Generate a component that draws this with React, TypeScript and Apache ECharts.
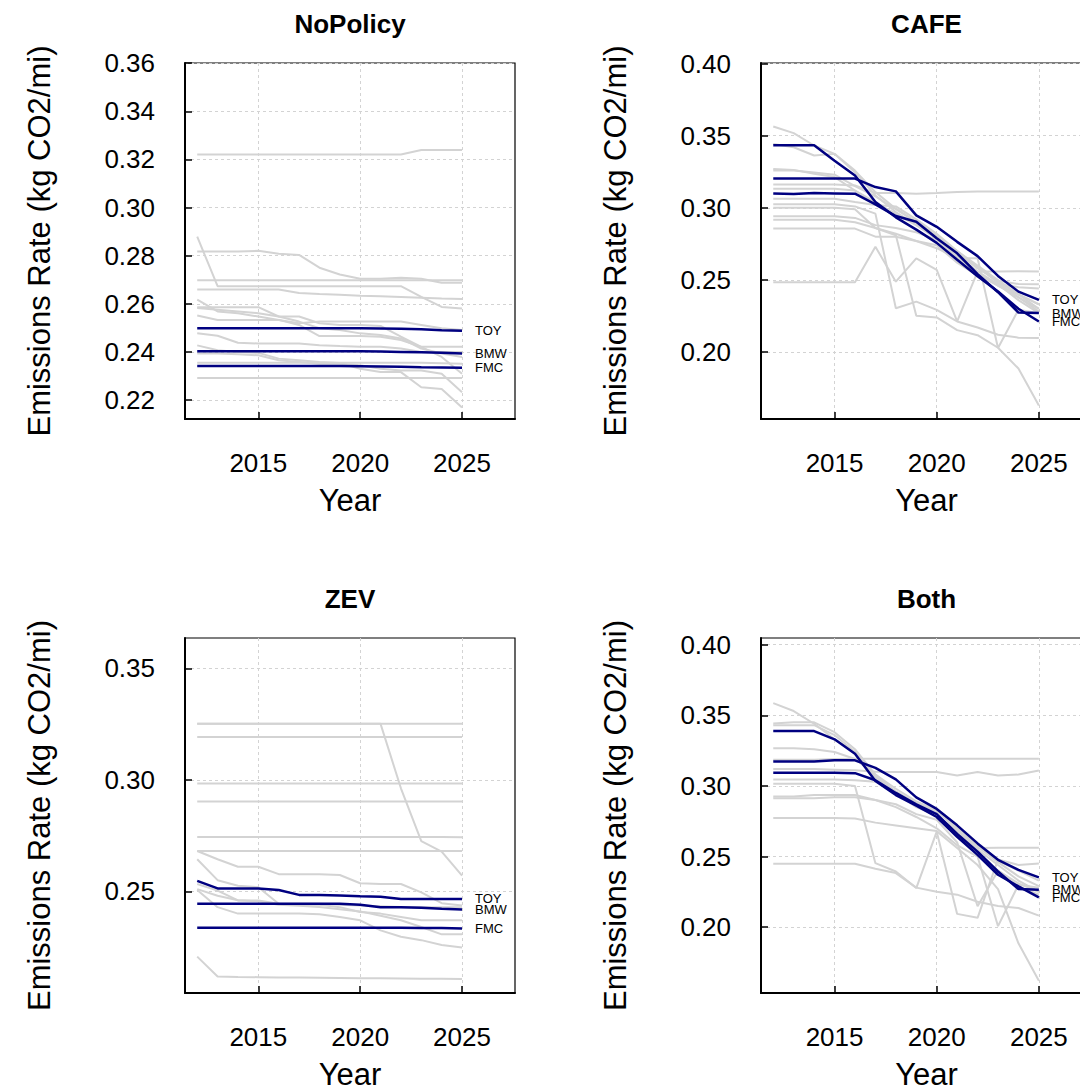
import React, { useEffect, useRef } from "react";
import * as echarts from "echarts";

// ---------- data ----------
const YEARS = [2012, 2013, 2014, 2015, 2016, 2017, 2018, 2019, 2020, 2021, 2022, 2023, 2024, 2025];
const X_TICKS = [2015, 2020, 2025];
const X_RANGE = [2011.4, 2027.6];
const FIRMS = ["TOY", "BMW", "FMC"];

// NoPolicy
const NOPOLICY_Y_RANGE = [0.2121, 0.3601];
const NOPOLICY_Y_TICKS = [0.22, 0.24, 0.26, 0.28, 0.3, 0.32, 0.34, 0.36];
const NOPOLICY_OTHERS = [
  [0.3221, 0.3221, 0.3221, 0.3221, 0.3221, 0.3221, 0.3221, 0.3221, 0.3221, 0.3221, 0.3221, 0.3239, 0.3239, 0.3239],
  [0.2817, 0.2817, 0.2817, 0.282, 0.2808, 0.2803, 0.275, 0.2722, 0.2704, 0.2704, 0.2708, 0.2704, 0.2687, 0.2687],
  [0.2698, 0.2698, 0.2698, 0.2698, 0.2698, 0.2698, 0.2698, 0.2698, 0.2698, 0.2698, 0.2698, 0.2698, 0.2698, 0.2698],
  [0.2879, 0.2673, 0.2673, 0.2673, 0.2673, 0.2673, 0.2673, 0.2673, 0.2673, 0.2673, 0.2673, 0.2629, 0.2587, 0.258],
  [0.2659, 0.2659, 0.2659, 0.2659, 0.2659, 0.2645, 0.2641, 0.2638, 0.2633, 0.2631, 0.2628, 0.2625, 0.2622, 0.262],
  [0.2617, 0.2568, 0.2561, 0.2547, 0.2533, 0.2512, 0.2466, 0.2466, 0.2466, 0.2463, 0.2449, 0.2421, 0.2379, 0.2309],
  [0.2586, 0.2586, 0.2586, 0.2586, 0.2547, 0.2547, 0.2519, 0.2512, 0.2512, 0.2508, 0.2463, 0.2421, 0.2421, 0.2421],
  [0.2582, 0.2575, 0.2568, 0.2561, 0.2547, 0.2526, 0.2498, 0.2491, 0.2477, 0.247, 0.2456, 0.2414, 0.2393, 0.2379],
  [0.2551, 0.2533, 0.2533, 0.2533, 0.2533, 0.2519, 0.2526, 0.2526, 0.2526, 0.2526, 0.2526, 0.2512, 0.2498, 0.2491],
  [0.2477, 0.2467, 0.2438, 0.2435, 0.2435, 0.2435, 0.2428, 0.2424, 0.2421, 0.2421, 0.2414, 0.24, 0.24, 0.24],
  [0.2427, 0.2407, 0.24, 0.2396, 0.2372, 0.2365, 0.2358, 0.2354, 0.233, 0.2316, 0.2316, 0.2253, 0.2246, 0.2169],
  [0.2393, 0.2393, 0.239, 0.2386, 0.2365, 0.2358, 0.2351, 0.2351, 0.2344, 0.233, 0.2323, 0.2323, 0.2309, 0.2232],
  [0.2355, 0.2355, 0.2355, 0.2355, 0.2355, 0.2355, 0.2355, 0.2355, 0.2355, 0.2355, 0.2355, 0.2355, 0.2353, 0.2351],
  [0.2291, 0.2291, 0.2291, 0.2291, 0.2291, 0.2291, 0.2291, 0.2291, 0.2291, 0.2291, 0.2291, 0.2291, 0.2291, 0.2291],
];
const NOPOLICY_TOY = [0.2498, 0.2498, 0.2498, 0.2498, 0.2498, 0.2498, 0.2498, 0.2498, 0.2498, 0.2497, 0.2496, 0.2494, 0.249, 0.2488];
const NOPOLICY_BMW = [0.2403, 0.2403, 0.2403, 0.2403, 0.2403, 0.2403, 0.2403, 0.2403, 0.2403, 0.2402, 0.24, 0.2398, 0.2396, 0.2393];
const NOPOLICY_FMC = [0.2341, 0.2341, 0.2341, 0.2341, 0.2341, 0.2341, 0.2341, 0.2341, 0.234, 0.2339, 0.2338, 0.2336, 0.2335, 0.2334];

// CAFE
const CAFE_Y_RANGE = [0.1536, 0.4004];
const CAFE_Y_TICKS = [0.2, 0.25, 0.3, 0.35, 0.4];
const CAFE_OTHERS = [
  [0.3564, 0.3518, 0.3432, 0.3374, 0.3247, 0.3086, 0.2971, 0.2879, 0.2787, 0.265, 0.254, 0.246, 0.24, 0.233],
  [0.3443, 0.342, 0.3363, 0.3374, 0.3258, 0.3109, 0.2994, 0.2902, 0.281, 0.269, 0.258, 0.2495, 0.2472, 0.247],
  [0.327, 0.3263, 0.3236, 0.3213, 0.312, 0.304, 0.2955, 0.288, 0.279, 0.267, 0.256, 0.247, 0.236, 0.227],
  [0.3259, 0.3259, 0.3245, 0.323, 0.315, 0.308, 0.299, 0.29, 0.28, 0.269, 0.259, 0.249, 0.24, 0.233],
  [0.3162, 0.3162, 0.3162, 0.3162, 0.3155, 0.3103, 0.3103, 0.3098, 0.3103, 0.311, 0.3114, 0.3114, 0.3114, 0.3114],
  [0.3133, 0.3133, 0.3133, 0.3133, 0.312, 0.303, 0.296, 0.289, 0.28, 0.27, 0.26, 0.25, 0.24, 0.23],
  [0.3063, 0.3063, 0.3063, 0.3063, 0.304, 0.302, 0.301, 0.292, 0.282, 0.27, 0.259, 0.248, 0.238, 0.228],
  [0.3024, 0.3024, 0.3024, 0.3024, 0.301, 0.296, 0.2304, 0.235, 0.2293, 0.2212, 0.217, 0.212, 0.21, 0.2097],
  [0.3001, 0.3001, 0.3001, 0.3001, 0.299, 0.286, 0.281, 0.2251, 0.224, 0.2152, 0.2117, 0.203, 0.1886, 0.163],
  [0.2941, 0.2941, 0.2941, 0.2941, 0.293, 0.288, 0.286, 0.283, 0.278, 0.266, 0.254, 0.246, 0.238, 0.23],
  [0.2918, 0.2918, 0.2918, 0.2918, 0.29, 0.286, 0.282, 0.277, 0.272, 0.265, 0.265, 0.2028, 0.2293, 0.227],
  [0.2856, 0.2856, 0.2856, 0.2856, 0.2856, 0.28, 0.28, 0.277, 0.274, 0.262, 0.253, 0.247, 0.245, 0.244],
  [0.2484, 0.2484, 0.2484, 0.2484, 0.2484, 0.273, 0.2488, 0.2649, 0.2569, 0.2212, 0.2558, 0.2558, 0.256, 0.2558],
];
const CAFE_TOY = [0.3203, 0.3203, 0.3203, 0.3203, 0.3203, 0.3144, 0.3114, 0.2948, 0.2868, 0.2764, 0.2665, 0.2528, 0.2419, 0.2362];
const CAFE_BMW = [0.31, 0.3095, 0.3102, 0.31, 0.3098, 0.3024, 0.2943, 0.2904, 0.2789, 0.2685, 0.254, 0.2415, 0.2274, 0.227];
const CAFE_FMC = [0.3433, 0.3433, 0.3433, 0.3327, 0.3224, 0.304, 0.2934, 0.2849, 0.2757, 0.264, 0.2525, 0.242, 0.23, 0.2212];

// ZEV
const ZEV_Y_RANGE = [0.2044, 0.3636];
const ZEV_Y_TICKS = [0.25, 0.3, 0.35];
const ZEV_OTHERS = [
  [0.3251, 0.3251, 0.3251, 0.3251, 0.3251, 0.3251, 0.3251, 0.3251, 0.3251, 0.3251, 0.3251, 0.3251, 0.3251, 0.3251],
  [0.3251, 0.3251, 0.3251, 0.3251, 0.3251, 0.3251, 0.3251, 0.3251, 0.3251, 0.3251, 0.2962, 0.2725, 0.2678, 0.257],
  [0.3192, 0.3192, 0.3192, 0.3192, 0.3192, 0.3192, 0.3192, 0.3192, 0.3192, 0.3192, 0.3192, 0.3192, 0.3192, 0.3192],
  [0.2984, 0.2984, 0.2984, 0.2984, 0.2984, 0.2984, 0.2984, 0.2984, 0.2984, 0.2984, 0.2984, 0.2984, 0.2984, 0.2984],
  [0.2903, 0.2903, 0.2903, 0.2903, 0.2903, 0.2903, 0.2903, 0.2903, 0.2903, 0.2903, 0.2903, 0.2903, 0.2903, 0.2903],
  [0.2744, 0.2744, 0.2744, 0.2744, 0.2744, 0.2744, 0.2744, 0.2744, 0.2744, 0.2744, 0.2744, 0.2744, 0.2744, 0.2742],
  [0.2681, 0.2681, 0.2681, 0.2681, 0.2681, 0.2681, 0.2681, 0.2681, 0.2681, 0.2681, 0.2681, 0.2681, 0.2681, 0.2681],
  [0.2681, 0.2644, 0.261, 0.261, 0.2577, 0.2577, 0.2577, 0.2573, 0.2536, 0.2533, 0.2533, 0.2495, 0.2447, 0.2436],
  [0.2644, 0.255, 0.2525, 0.2518, 0.2444, 0.2444, 0.2444, 0.244, 0.2436, 0.2433, 0.243, 0.2429, 0.2429, 0.2429],
  [0.2533, 0.2503, 0.2459, 0.2459, 0.2444, 0.244, 0.244, 0.2429, 0.2407, 0.24, 0.2385, 0.237, 0.237, 0.237],
  [0.251, 0.248, 0.246, 0.2455, 0.244, 0.2435, 0.243, 0.242, 0.241, 0.239, 0.237, 0.234, 0.2307, 0.2307],
  [0.2506, 0.2429, 0.24, 0.24, 0.24, 0.24, 0.2397, 0.2385, 0.237, 0.2325, 0.2296, 0.2281, 0.2259, 0.2248],
  [0.2207, 0.2118, 0.2116, 0.2115, 0.2114, 0.2113, 0.2112, 0.2111, 0.211, 0.211, 0.2109, 0.2108, 0.2108, 0.2107],
];
const ZEV_TOY = [0.2547, 0.2513, 0.2513, 0.2513, 0.2506, 0.2484, 0.2484, 0.2481, 0.2478, 0.2476, 0.2466, 0.2466, 0.2466, 0.2466];
const ZEV_BMW = [0.2444, 0.2444, 0.2444, 0.2444, 0.2444, 0.2444, 0.2444, 0.2444, 0.244, 0.2429, 0.2429, 0.2426, 0.2422, 0.2419];
const ZEV_FMC = [0.2337, 0.2337, 0.2337, 0.2337, 0.2337, 0.2337, 0.2337, 0.2337, 0.2337, 0.2337, 0.2337, 0.2336, 0.2335, 0.2333];

// Both
const BOTH_Y_RANGE = [0.1534, 0.4047];
const BOTH_Y_TICKS = [0.2, 0.25, 0.3, 0.35, 0.4];
const BOTH_OTHERS = [
  [0.3586, 0.353, 0.344, 0.333, 0.324, 0.307, 0.296, 0.288, 0.282, 0.27, 0.258, 0.247, 0.24, 0.233],
  [0.3442, 0.345, 0.345, 0.338, 0.326, 0.308, 0.298, 0.289, 0.283, 0.269, 0.257, 0.246, 0.236, 0.229],
  [0.343, 0.343, 0.343, 0.336, 0.324, 0.306, 0.295, 0.287, 0.279, 0.267, 0.255, 0.244, 0.233, 0.225],
  [0.3267, 0.3267, 0.326, 0.324, 0.319, 0.308, 0.295, 0.285, 0.279, 0.268, 0.256, 0.2563, 0.2563, 0.2563],
  [0.3186, 0.3186, 0.3186, 0.319, 0.3193, 0.3193, 0.3193, 0.3193, 0.3193, 0.3193, 0.3193, 0.3193, 0.3193, 0.3193],
  [0.312, 0.312, 0.312, 0.3115, 0.311, 0.31, 0.3098, 0.3098, 0.3098, 0.3074, 0.3098, 0.3074, 0.308, 0.3109],
  [0.3046, 0.3046, 0.3046, 0.3046, 0.304, 0.303, 0.296, 0.287, 0.279, 0.265, 0.252, 0.24, 0.229, 0.223],
  [0.3016, 0.3016, 0.3016, 0.3016, 0.3, 0.2453, 0.2394, 0.2277, 0.2676, 0.2094, 0.2066, 0.248, 0.244, 0.245],
  [0.2925, 0.2925, 0.2935, 0.2935, 0.2935, 0.29, 0.287, 0.28, 0.276, 0.26, 0.2148, 0.24, 0.231, 0.225],
  [0.2913, 0.2913, 0.2913, 0.292, 0.292, 0.29, 0.285, 0.278, 0.27, 0.258, 0.25, 0.2007, 0.23, 0.228],
  [0.2772, 0.2772, 0.2772, 0.2772, 0.277, 0.274, 0.272, 0.27, 0.268, 0.256, 0.244, 0.227, 0.1886, 0.162],
  [0.2449, 0.2449, 0.2449, 0.2449, 0.2449, 0.2413, 0.2383, 0.228, 0.225, 0.223, 0.218, 0.215, 0.2136, 0.2082],
];
const BOTH_TOY = [0.3172, 0.3172, 0.3172, 0.3181, 0.3181, 0.3128, 0.3046, 0.2919, 0.2837, 0.2721, 0.2593, 0.2477, 0.2406, 0.2352];
const BOTH_BMW = [0.3093, 0.3093, 0.3093, 0.3093, 0.309, 0.304, 0.295, 0.287, 0.28, 0.266, 0.2535, 0.2394, 0.227, 0.2265];
const BOTH_FMC = [0.3388, 0.3388, 0.3388, 0.333, 0.3228, 0.3035, 0.2935, 0.286, 0.278, 0.264, 0.2512, 0.2371, 0.2289, 0.2211];

const TITLES = ["NoPolicy", "CAFE", "ZEV", "Both"];
const Y_NAME = "Emissions Rate (kg CO2/mi)";
const X_NAME = "Year";

// ---------- layout ----------
const FONT = "'Liberation Sans', Arial, Helvetica, sans-serif";
const GREY = "#d3d3d3";
const NAVY = "#000080";

const PANELS = [
  { title: TITLES[0], grid: { left: 185, top: 63, width: 330, height: 356 }, yRange: NOPOLICY_Y_RANGE, yTicks: NOPOLICY_Y_TICKS, others: NOPOLICY_OTHERS, firms: [NOPOLICY_TOY, NOPOLICY_BMW, NOPOLICY_FMC] },
  { title: TITLES[1], grid: { left: 761, top: 63, width: 331, height: 356 }, yRange: CAFE_Y_RANGE, yTicks: CAFE_Y_TICKS, others: CAFE_OTHERS, firms: [CAFE_TOY, CAFE_BMW, CAFE_FMC] },
  { title: TITLES[2], grid: { left: 185, top: 638, width: 330, height: 359 }, yRange: ZEV_Y_RANGE, yTicks: ZEV_Y_TICKS, others: ZEV_OTHERS, firms: [ZEV_TOY, ZEV_BMW, ZEV_FMC] },
  { title: TITLES[3], grid: { left: 761, top: 638, width: 331, height: 359 }, yRange: BOTH_Y_RANGE, yTicks: BOTH_Y_TICKS, others: BOTH_OTHERS, firms: [BOTH_TOY, BOTH_BMW, BOTH_FMC] },
];

function buildOption() {
  const grids: any[] = [];
  const xAxes: any[] = [];
  const yAxes: any[] = [];
  const series: any[] = [];
  const titles: any[] = [];

  PANELS.forEach((p, i) => {
    grids.push({ ...p.grid, show: true, borderColor: "#000", borderWidth: 1.2, backgroundColor: "transparent", containLabel: false });
    titles.push({
      text: p.title,
      left: p.grid.left + p.grid.width / 2,
      top: p.grid.top - 52,
      textAlign: "center",
      padding: 0,
      textStyle: { fontSize: 26, fontWeight: "bold", color: "#000", fontFamily: FONT },
    });
    xAxes.push({
      gridIndex: i,
      type: "value",
      min: X_RANGE[0],
      max: X_RANGE[1],
      name: X_NAME,
      nameLocation: "middle",
      nameGap: 66,
      nameTextStyle: { fontSize: 31, color: "#000", fontFamily: FONT },
      axisLine: { show: true, onZero: false, lineStyle: { color: "#000", width: 2 } },
      axisTick: { show: true, inside: true, length: 7, customValues: X_TICKS, lineStyle: { color: "#000", width: 1.5 } },
      axisLabel: { customValues: X_TICKS, fontSize: 26, color: "#000", margin: 31, fontFamily: FONT, formatter: (v: number) => String(Math.round(v)) },
      splitLine: { show: true, lineStyle: { color: GREY, type: [3, 3], width: 1 } },
    });
    yAxes.push({
      gridIndex: i,
      type: "value",
      min: p.yRange[0],
      max: p.yRange[1],
      name: Y_NAME,
      nameLocation: "middle",
      nameGap: 130,
      nameTextStyle: { fontSize: 31, color: "#000", fontFamily: FONT },
      axisLine: { show: true, onZero: false, lineStyle: { color: "#000", width: 2 } },
      axisTick: { show: true, inside: true, length: 7, customValues: p.yTicks, lineStyle: { color: "#000", width: 1.5 } },
      axisLabel: { customValues: p.yTicks, fontSize: 26, color: "#000", margin: 30, fontFamily: FONT, formatter: (v: number) => v.toFixed(2) },
      splitLine: { show: true, lineStyle: { color: GREY, type: [3, 3], width: 1 } },
    });
    p.others.forEach((vals, k) => {
      series.push({
        type: "line",
        name: `${p.title}-other-${k}`,
        xAxisIndex: i,
        yAxisIndex: i,
        data: YEARS.map((yr, j) => [yr, vals[j]]),
        showSymbol: false,
        symbol: "none",
        silent: true,
        z: 2,
        lineStyle: { color: GREY, width: 2 },
      });
    });
    p.firms.forEach((vals, k) => {
      const name = FIRMS[k];
      series.push({
        type: "line",
        name,
        xAxisIndex: i,
        yAxisIndex: i,
        data: YEARS.map((yr, j) => [yr, vals[j]]),
        showSymbol: false,
        symbol: "none",
        silent: true,
        z: 3,
        lineStyle: { color: NAVY, width: 2.5 },
        endLabel: { show: true, formatter: () => name, fontSize: 13, color: "#000", distance: 13, fontFamily: FONT },
      });
    });
  });

  return {
    animation: false,
    backgroundColor: "#fff",
    textStyle: { fontFamily: FONT },
    title: titles,
    grid: grids,
    xAxis: xAxes,
    yAxis: yAxes,
    series,
  };
}

export default function App() {
  const ref = useRef<HTMLDivElement>(null);
  useEffect(() => {
    if (!ref.current) return;
    const chart = echarts.init(ref.current, undefined, { renderer: "svg" });
    chart.setOption(buildOption() as any);
    return () => chart.dispose();
  }, []);
  return (
    <div style={{ position: "fixed", left: 0, top: 0, width: 1080, height: 1091, overflow: "hidden", background: "#fff" }}>
      <div ref={ref} style={{ width: 1100, height: 1091 }} />
    </div>
  );
}
